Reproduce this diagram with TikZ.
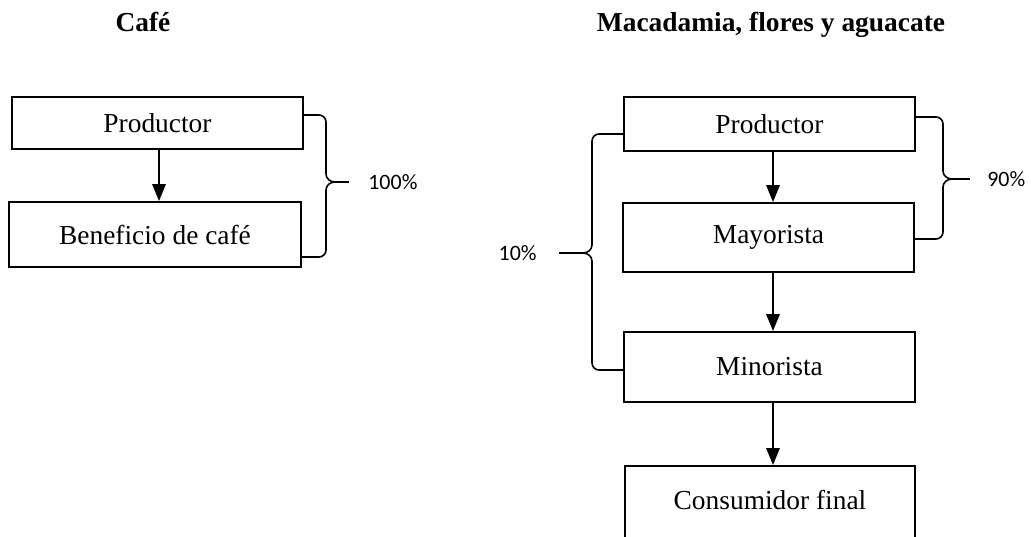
\documentclass[tikz,border=0pt]{standalone}
\usepackage{fontspec}
\setmainfont{Liberation Serif}
\newfontfamily\pctfont{Carlito}
\usetikzlibrary{arrows.meta}
\begin{document}
\begin{tikzpicture}[x=0.02cm,y=-0.02cm,
  box/.style={draw,line width=1.1pt,inner sep=0pt,font=\fontsize{15.6}{18}\selectfont},
  ttl/.style={font=\fontsize{15.6}{18}\selectfont\bfseries,anchor=base},
  pct/.style={font=\fontsize{12.5}{15}\selectfont\pctfont,inner sep=0pt},
  flow/.style={line width=0.9pt,-{Triangle[length=0.34cm,width=0.27cm]}},
  brace/.style={line width=0.9pt}]
\useasboundingbox (0,0) rectangle (1031,537);
% titles
\node[ttl] (t1) at (143,32) {Café};
\node[ttl] (t2) at (771,32) {Macadamia, flores y aguacate};
% left chain
\node[box,minimum width=291*0.02cm,minimum height=52*0.02cm] (pl) at (157.5,123) {Productor};
\node[box,minimum width=292*0.02cm,minimum height=65*0.02cm] (bl) at (155,234.5) {Beneficio de café};
\draw[flow] (pl.south -| 159,0) -- (bl.north -| 159,0);
% right chain
\node[box,minimum width=291*0.02cm,minimum height=54*0.02cm] (pr) at (769.5,124) {Productor};
\node[box,minimum width=291*0.02cm,minimum height=69*0.02cm] (my) at (768.5,237.5) {Mayorista};
\node[box,minimum width=291*0.02cm,minimum height=70*0.02cm] (mn) at (769.5,367) {Minorista};
\node[box,minimum width=290*0.02cm,minimum height=84*0.02cm,text depth=0.32cm,anchor=north] (cf) at (770,465) {Consumidor final};
\draw[flow] (pr.south -| 773,0) -- (my.north -| 773,0);
\draw[flow] (my.south -| 773,0) -- (mn.north -| 773,0);
\draw[flow] (mn.south -| 773,0) -- (cf.north -| 773,0);
% labels
\node[pct,anchor=west] (p100) at (368,182) {100\%};
\node[pct,anchor=west] (p90) at (987,179) {90\%};
\node[pct,anchor=east] (p10) at (537,253) {10\%};
% brace 100%
\coordinate (e100) at (349,182);
\draw[brace] (pl.east |- 0,115) -- (319,115) to[out=0,in=90] (326,122) -- (326,174)
  to[out=270,in=180] (335,182) to[out=180,in=90] (326,190) -- (326,250)
  to[out=270,in=0] (319,257) -- (bl.east |- 0,257);
\draw[brace] (335,182) -- (e100);
% brace 90%
\coordinate (e90) at (970,179);
\draw[brace] (pr.east |- 0,117) -- (936,117) to[out=0,in=90] (943,124) -- (943,171)
  to[out=270,in=180] (952,179) to[out=180,in=90] (943,187) -- (943,232)
  to[out=270,in=0] (936,239) -- (my.east |- 0,239);
\draw[brace] (952,179) -- (e90);
% brace 10%
\coordinate (e10) at (559,253);
\draw[brace] (pr.west |- 0,134) -- (599,134) to[out=180,in=90] (592,141) -- (592,245)
  to[out=270,in=0] (583,253) to[out=0,in=90] (592,261) -- (592,363)
  to[out=270,in=180] (599,370) -- (mn.west |- 0,370);
\draw[brace] (583,253) -- (e10);
\end{tikzpicture}
\end{document}
